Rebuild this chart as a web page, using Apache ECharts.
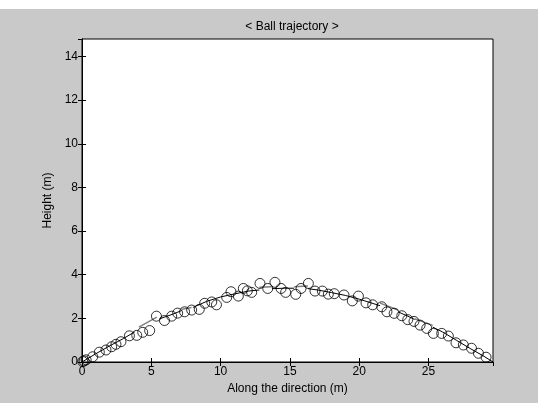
<!DOCTYPE html>
<html>
<head>
<meta charset="UTF-8">
<title>Ball trajectory</title>
<script src="https://cdn.jsdelivr.net/npm/echarts@6/dist/echarts.min.js"></script>
<style>
    html, body { margin: 0; padding: 0; background: #fff; }
    #chart { width: 538px; height: 403px; }
</style>
</head>
<body>
<div id="chart"></div>
<script>
// measured ball positions (m)
var samples = [
    [0.05, 0.02], [0.15, 0.05], [0.3, 0.1], [0.77, 0.24], [1.25, 0.45], [1.73, 0.55],
    [2.14, 0.7], [2.45, 0.81], [2.81, 0.93], [3.42, 1.2], [3.95, 1.22], [4.38, 1.36],
    [4.88, 1.44], [5.37, 2.1], [5.95, 1.9], [6.47, 2.1], [6.9, 2.24], [7.4, 2.3],
    [7.91, 2.38], [8.46, 2.41], [8.85, 2.69], [9.36, 2.75], [9.7, 2.62], [10.44, 2.96],
    [10.75, 3.22], [11.28, 3.02], [11.64, 3.37], [11.93, 3.26], [12.24, 3.19], [12.84, 3.6],
    [13.4, 3.37], [13.92, 3.65], [14.36, 3.37], [14.69, 3.19], [15.42, 3.1], [15.8, 3.37],
    [16.33, 3.6], [16.81, 3.25], [17.34, 3.25], [17.77, 3.11], [18.2, 3.13], [18.9, 3.07],
    [19.5, 2.8], [19.94, 3.02], [20.49, 2.71], [20.97, 2.62], [21.62, 2.53], [22.0, 2.3],
    [22.52, 2.23], [23.07, 2.12], [23.5, 1.94], [23.95, 1.86], [24.39, 1.69], [24.87, 1.54],
    [25.35, 1.31], [25.95, 1.31], [26.43, 1.19], [26.98, 0.88], [27.51, 0.78], [28.1, 0.63],
    [28.6, 0.4], [29.15, 0.22], [29.67, 0.0]
];
// fitted curve pieces (null = gap)
var blackLine = [
    [0, 0], [1, 0.38], [2, 0.74], [3, 1.08], [3.8, 1.38], null,
    [5.6, 1.98], [6.5, 2.18], [7.2, 2.36], null,
    [8.0, 2.5], [9, 2.78], [10, 2.98], [11, 3.12], [12, 3.25], [12.8, 3.3], null,
    [13.7, 3.36], [14.6, 3.38], [15.3, 3.38], null,
    [16.3, 3.36], [17, 3.3], [18, 3.18], [19, 3.05], [20, 2.88], [21, 2.68], [21.5, 2.58], null,
    [22.8, 2.3], [23.5, 2.1], [24, 1.95], null,
    [25.3, 1.6], [26, 1.38], [27, 1.0], [28, 0.62], [29, 0.26], [29.65, 0]
];
var grayLine = [
    [4.1, 1.6], [5.4, 2.06], null,
    [7.2, 2.42], [7.9, 2.5], null,
    [12.8, 3.42], [13.7, 3.45], null,
    [15.3, 3.45], [16.3, 3.48], null,
    [21.5, 2.7], [22.8, 2.38], null,
    [24.0, 1.98], [25.3, 1.68]
];
var xMax = 29.65, yMax = 14.8;

function pieces(list) {
    var out = [], cur = [];
    list.forEach(function (p) {
        if (p === null) { if (cur.length) out.push(cur); cur = []; }
        else cur.push(p);
    });
    if (cur.length) out.push(cur);
    return out;
}

var font = 'Liberation Sans, Arial, sans-serif';
var series = [];
pieces(blackLine).forEach(function (seg) {
    series.push({ type: 'line', data: seg, symbol: 'none', lineStyle: { color: '#000', width: 1 }, z: 2 });
});
pieces(grayLine).forEach(function (seg) {
    series.push({ type: 'line', data: seg, symbol: 'none', lineStyle: { color: '#808080', width: 1.5 }, z: 2 });
});
series.push({
    type: 'scatter', data: samples, symbol: 'circle', symbolSize: 10,
    itemStyle: { color: 'rgba(0,0,0,0)', borderColor: '#000', borderWidth: 1 }, z: 3
});

var tick = { show: true, inside: true, length: 4, lineStyle: { color: '#000' } };
var chart = echarts.init(document.getElementById('chart'));
chart.setOption({
    backgroundColor: '#c9c9c9',
    animation: false,
    graphic: [{ type: 'rect', shape: { x: 0, y: 0, width: 538, height: 9 }, style: { fill: '#fff' } }],
    title: {
        text: '< Ball trajectory >', left: 287, top: 16, textAlign: 'center',
        textStyle: { fontFamily: font, fontSize: 12, fontWeight: 'normal', color: '#000' }
    },
    grid: { left: 82, right: 45, top: 39, bottom: 41, show: true, backgroundColor: '#fff', borderColor: '#000', borderWidth: 1 },
    xAxis: [{
        type: 'value', min: 0, max: xMax, interval: 5, position: 'bottom',
        name: 'Along the direction (m)', nameLocation: 'middle', nameGap: 20,
        nameTextStyle: { fontFamily: font, fontSize: 12, color: '#000' },
        axisLine: { lineStyle: { color: '#000' } }, axisTick: tick,
        axisLabel: { fontFamily: font, fontSize: 12, color: '#000', margin: 4, showMaxLabel: false },
        splitLine: { show: false }
    }, {
        type: 'value', min: 0, max: xMax, interval: 5, position: 'top',
        axisLine: { show: true, lineStyle: { color: '#000' } }, axisTick: tick,
        axisLabel: { show: false }, splitLine: { show: false }
    }],
    yAxis: [{
        type: 'value', min: 0, max: yMax, interval: 2, position: 'left',
        name: 'Height (m)', nameLocation: 'middle', nameGap: 26,
        nameTextStyle: { fontFamily: font, fontSize: 12, color: '#000' },
        axisLine: { show: true, lineStyle: { color: '#000' } }, axisTick: tick,
        axisLabel: { fontFamily: font, fontSize: 12, color: '#000', margin: 4, showMaxLabel: false },
        splitLine: { show: false }
    }, {
        type: 'value', min: 0, max: yMax, interval: 2, position: 'right',
        axisLine: { show: true, lineStyle: { color: '#000' } }, axisTick: tick,
        axisLabel: { show: false }, splitLine: { show: false }
    }],
    series: series
});
</script>
</body>
</html>
